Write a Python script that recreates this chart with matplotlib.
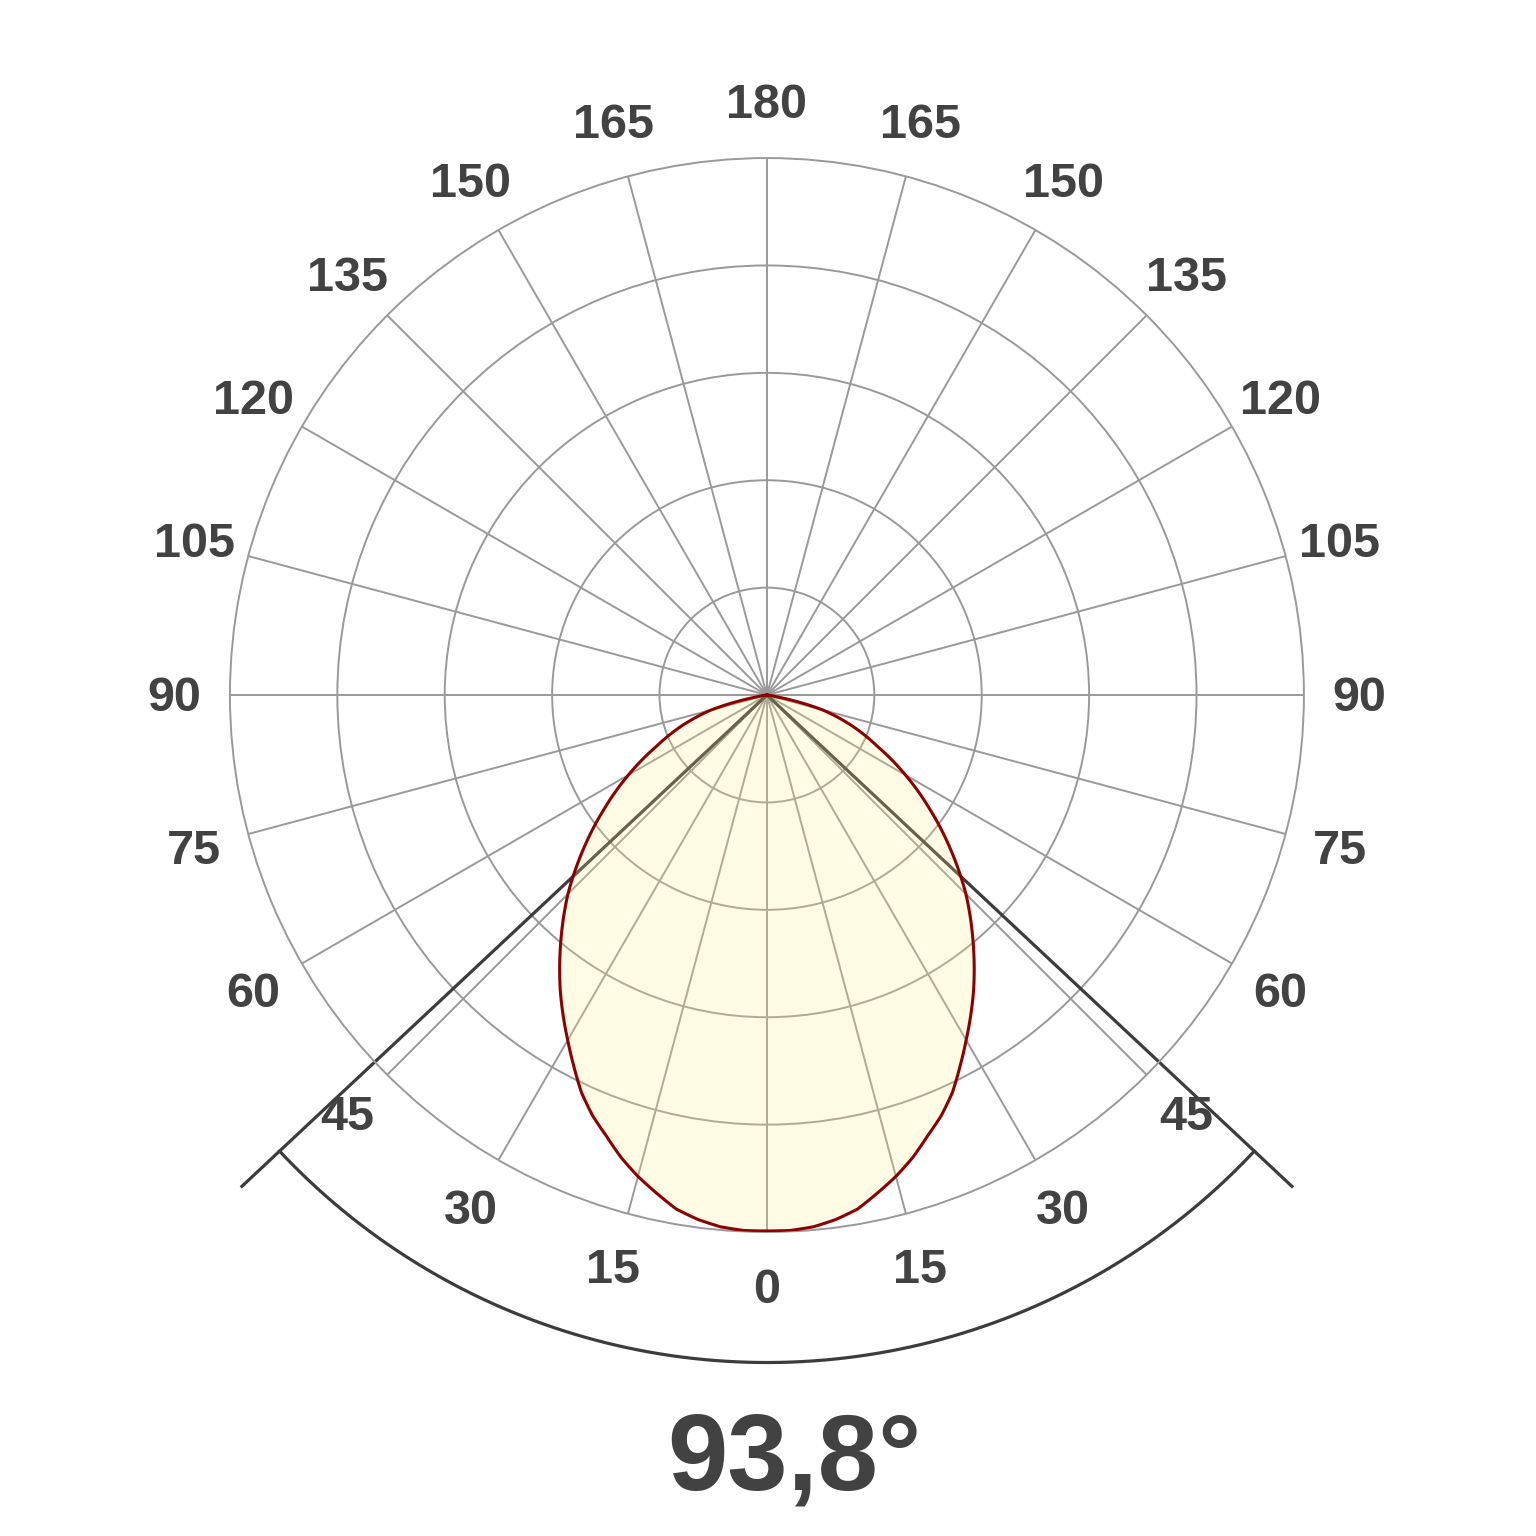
import numpy as np
import matplotlib
matplotlib.use("Agg")
import matplotlib.pyplot as plt
from matplotlib.transforms import offset_copy

# ---- data ----
angles_deg = [0, 2.5, 5, 7.5, 10, 12.5, 15, 17.5, 20, 22.5, 25, 27.5, 30,
              35, 40, 45, 50, 55, 60, 65, 70, 75, 80, 85, 90]
intensity = [99.8, 99.8, 99.4, 98.5, 97.2, 95.0, 92.8, 90.3, 87.4, 84.8, 81.7, 77.9, 74.2,
             67.1, 59.7, 52.4, 44.6, 37.0, 29.8, 22.8, 17.0, 10.8, 1.5, 0.2, 0.0]
tick_angles = list(range(0, 360, 15))
tick_labels = [str(a if a <= 180 else 360 - a) for a in tick_angles]
ring_values = [20, 40, 60, 80]
beam_angle = 93.8

plt.rcParams['font.family'] = ['Liberation Sans', 'DejaVu Sans']

fig = plt.figure(figsize=(15.36, 15.36), dpi=100)
ax = fig.add_axes([0.1497, 0.1979, 0.6992, 0.6992], projection='polar')
ax.set_theta_zero_location('S')
ax.set_ylim(0, 100)
ax.set_axisbelow(True)

grid_col = '#999999'
ax.set_xticks(np.deg2rad(tick_angles))
ax.set_xticklabels([])
ax.set_yticks(ring_values)
ax.set_yticklabels([])
ax.grid(True, color=grid_col, linewidth=1.4)
ax.spines['polar'].set_color(grid_col)
ax.spines['polar'].set_linewidth(1.4)
ax.tick_params(length=0)

# symmetric curve (mirror left/right)
th = np.deg2rad(np.concatenate([-np.array(angles_deg[::-1]), np.array(angles_deg[1:])]))
rv = np.concatenate([np.array(intensity[::-1]), np.array(intensity[1:])])

# beam lines and arc
half = np.deg2rad(beam_angle / 2)
line_col = '#3c3c3c'
for s in (-1, 1):
    ax.plot([s * half, s * half], [0, 134.2], color=line_col, lw=2.3,
            clip_on=False, zorder=1, solid_capstyle='butt')
arc_t = np.linspace(-half, half, 300)
ax.plot(arc_t, np.full_like(arc_t, 124.3), color=line_col, lw=2.3, clip_on=False, zorder=1)

poly = ax.fill(th, rv, color='#FFF08A', alpha=0.22, zorder=2, lw=0)[0]
poly.get_path()._interpolation_steps = 20
edge, = ax.plot(th, rv, color='#8B0000', lw=2.2, zorder=3)
edge.get_path()._interpolation_steps = 20

# angle labels
lab_tr = offset_copy(ax.transData, fig=fig, x=0, y=-3, units='dots')
for a, lab in zip(tick_angles, tick_labels):
    ax.text(np.deg2rad(a), 110.4, lab, ha='center', va='center', fontsize=35,
            fontweight='bold', color='#424242', clip_on=False, transform=lab_tr)

fig.text(794 / 1536, 1 - 1489 / 1536, f"{beam_angle:.1f}".replace('.', ',') + '°',
         ha='center', va='baseline', fontsize=78, fontweight='bold', color='#424242')

fig.savefig('out.png', dpi=100, facecolor='white')
